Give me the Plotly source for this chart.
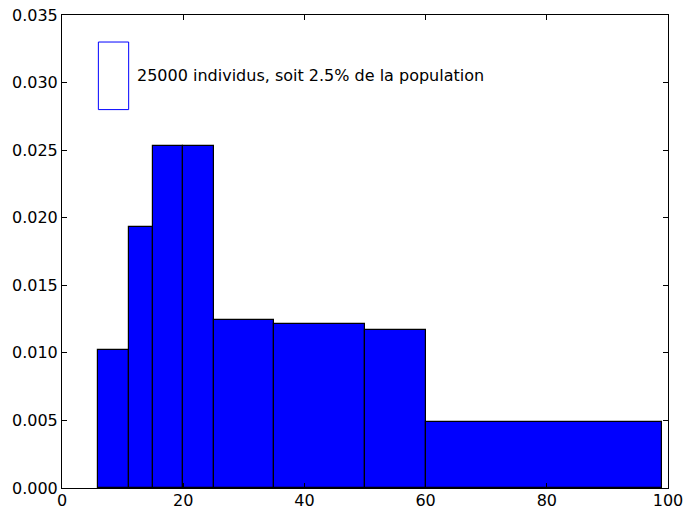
import plotly.graph_objects as go

# Bin edges (age) and density values
bin_edges = [6, 11, 15, 20, 25, 35, 50, 60, 99]
densities = [0.0102, 0.0193, 0.0253, 0.0253, 0.0124, 0.0121, 0.0117, 0.0049]

# Legend rectangle: area represents 2.5% of the population
legend_x0 = 6
legend_width = 5
legend_y0 = 0.028
legend_share = 0.025
legend_text = "25000 individus, soit 2.5% de la population"

x_ticks = [0, 20, 40, 60, 80, 100]
y_ticks = [0.000, 0.005, 0.010, 0.015, 0.020, 0.025, 0.030, 0.035]

centers = [(a + b) / 2 for a, b in zip(bin_edges[:-1], bin_edges[1:])]
widths = [b - a for a, b in zip(bin_edges[:-1], bin_edges[1:])]

fig = go.Figure()
fig.add_trace(go.Bar(
    x=centers, y=densities, width=widths,
    marker=dict(color="#0000ff", line=dict(color="black", width=1.2)),
    showlegend=False, hoverinfo="skip",
))

legend_height = legend_share / legend_width
fig.add_shape(type="rect", xref="x", yref="y",
              x0=legend_x0, x1=legend_x0 + legend_width,
              y0=legend_y0, y1=legend_y0 + legend_height,
              line=dict(color="#0000ff", width=1), fillcolor="rgba(0,0,0,0)")
fig.add_annotation(xref="x", yref="y", x=legend_x0 + legend_width + 1.1,
                   y=legend_y0 + legend_height / 2,
                   text=legend_text, showarrow=False, xanchor="left", yanchor="middle",
                   font=dict(family="DejaVu Sans", size=16, color="black"))

axis_common = dict(showline=True, linecolor="black", linewidth=1, mirror="ticks",
                   ticks="inside", ticklen=5, tickcolor="black", tickwidth=1,
                   showgrid=False, zeroline=False, automargin=False,
                   tickfont=dict(family="DejaVu Sans", size=16, color="black"))

fig.update_xaxes(range=[0, 100], tickvals=x_ticks, ticktext=[str(v) for v in x_ticks],
                 ticklabelstandoff=-2, **axis_common)
fig.update_yaxes(range=[0, 0.035], tickvals=y_ticks,
                 ticktext=[f"{v:.3f}" for v in y_ticks], **axis_common)

fig.update_layout(
    width=699, height=510,
    margin=dict(l=62, r=31, t=15, b=22),
    plot_bgcolor="white", paper_bgcolor="white",
    bargap=0,
    font=dict(family="DejaVu Sans", size=16, color="black"),
)

fig.write_html("out.html", config={"displayModeBar": False},
               post_script="document.body.style.margin='0';document.body.style.overflow='hidden';")
